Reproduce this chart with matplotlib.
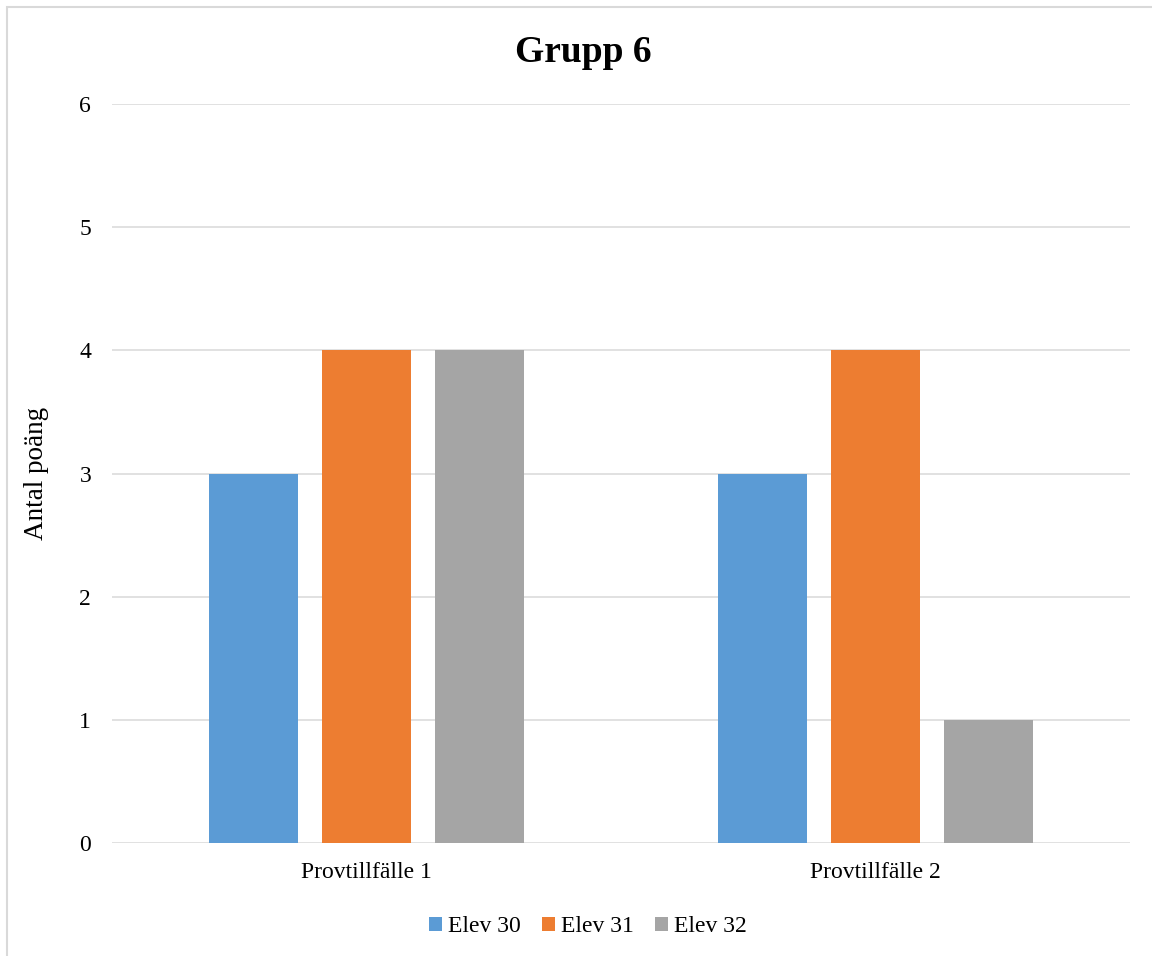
import matplotlib
matplotlib.use("Agg")
import matplotlib.pyplot as plt
import numpy as np
from matplotlib.patches import Rectangle

categories = ["Provtillfälle 1", "Provtillfälle 2"]
series_names = ["Elev 30", "Elev 31", "Elev 32"]
elev30 = [3, 3]
elev31 = [4, 4]
elev32 = [4, 1]
yticks = [0, 1, 2, 3, 4, 5, 6]

colors = ["#5B9BD5", "#ED7D31", "#A5A5A5"]
plt.rcParams["font.family"] = ["Liberation Serif", "DejaVu Serif"]

W, H = 1152, 956
fig = plt.figure(figsize=(W / 100, H / 100), dpi=100)
ax = fig.add_axes([112 / W, 1 - 843 / H, (1130 - 112) / W, (843 - 104) / H])

# outer chart frame (left and top edges visible)
fig.patches.append(Rectangle((7 / W, -0.1), 1.2, 1 - 7 / H + 0.1, transform=fig.transFigure,
                             fill=False, edgecolor="#D9D9D9", linewidth=1.5))

x = np.arange(len(categories))
width = 0.173
step = 0.222
for i, (vals, name) in enumerate(zip([elev30, elev31, elev32], series_names)):
    ax.bar(x + (i - 1) * step, vals, width, color=colors[i], label=name, zorder=3)

ax.set_xlim(-0.5, len(categories) - 0.5)
ax.set_ylim(0, 6)
ax.set_yticks(yticks)
ax.set_yticklabels([str(t) for t in yticks], fontsize=17)
ax.set_xticks(x)
ax.set_xticklabels(categories, fontsize=17)
ax.tick_params(axis="both", length=0)
ax.tick_params(axis="y", pad=15)
ax.tick_params(axis="x", pad=14)
ax.grid(axis="y", color="#D9D9D9", linewidth=1.1, zorder=0)
for s in ax.spines.values():
    s.set_visible(False)

ax.set_ylabel("Antal poäng", fontsize=19.5, labelpad=22)
fig.text(583 / W, 1 - 52 / H, "Grupp 6", fontsize=27, fontweight="bold",
         ha="center", va="center")

leg = fig.legend(loc="center", bbox_to_anchor=(588 / W, 1 - 927 / H), ncol=3,
                 frameon=False, fontsize=17, handlelength=0.55, handleheight=0.55,
                 handletextpad=0.25, columnspacing=0.9)

fig.savefig("out.png", dpi=100)
